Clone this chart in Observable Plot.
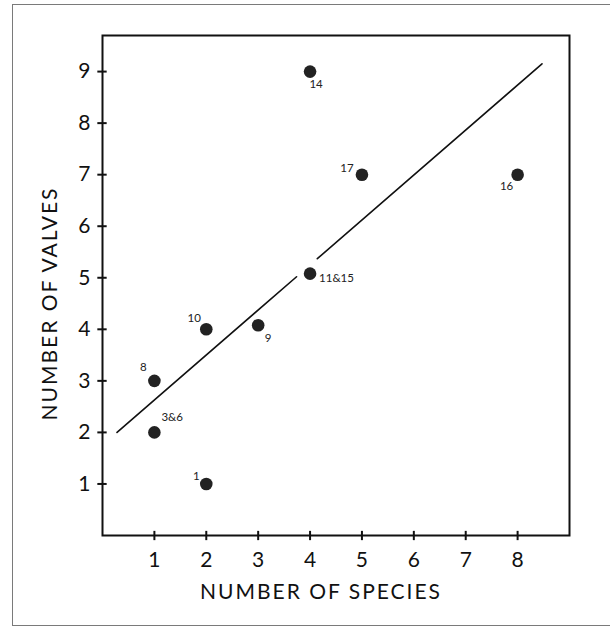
<!DOCTYPE html>
<html>
<head>
<meta charset="utf-8">
<script src="https://cdn.jsdelivr.net/npm/d3@7"></script>
<script src="https://cdn.jsdelivr.net/npm/@observablehq/plot@0.6"></script>
<style>
  html, body { margin: 0; padding: 0; background: #fff; }
  #wrap { position: relative; width: 610px; height: 626px; overflow: hidden; }
  #border { position: absolute; left: 12px; top: 4px; width: 620px; height: 622px;
            border: 1.5px solid #7a7a7a; box-sizing: border-box; }
  #chart { position: absolute; left: 0; top: 0; }
  svg { font-family: Lato, "DejaVu Sans", sans-serif; }
</style>
</head>
<body>
<div id="wrap"><div id="border"></div><div id="chart"></div></div>
<script>
// Data
const species = [2, 1, 1, 2, 3, 4, 4, 5, 8];
const valves  = [1, 2, 3, 4, 4.08, 5.08, 9, 7, 7];
const pointLabels = ["1", "3&6", "8", "10", "9", "11&15", "14", "17", "16"];

// Fitted line (drawn with a gap around point 11&15)
const fitX = [0.28, 3.74, 4.14, 8.47];
const fitY = [2.0, 5.02, 5.37, 9.15];
const fitSeg = [0, 0, 1, 1];

const xTicks = [1, 2, 3, 4, 5, 6, 7, 8];
const yTicks = [1, 2, 3, 4, 5, 6, 7, 8, 9];
const xTitle = "NUMBER OF SPECIES";
const yTitle = "NUMBER OF VALVES";

const points = species.map((x, i) => ({x, y: valves[i], label: pointLabels[i]}));
const fit = fitX.map((x, i) => ({x, y: fitY[i], seg: fitSeg[i]}));

// label placement (style)
const labelPos = {
  "1":     {dx: -10, dy: -8,  anchor: "middle"},
  "3&6":   {dx: 7,   dy: -15, anchor: "start"},
  "8":     {dx: -11, dy: -14, anchor: "middle"},
  "10":    {dx: -12, dy: -11, anchor: "middle"},
  "9":     {dx: 10,  dy: 13,  anchor: "middle"},
  "11&15": {dx: 9,   dy: 5,   anchor: "start"},
  "14":    {dx: 6,   dy: 13,  anchor: "middle"},
  "17":    {dx: -15, dy: -6,  anchor: "middle"},
  "16":    {dx: -11, dy: 12,  anchor: "middle"}
};

const labelMarks = points.map(p => {
  const s = labelPos[p.label];
  return Plot.text([p], {x: "x", y: "y", text: "label", dx: s.dx, dy: s.dy,
    textAnchor: s.anchor, fontSize: 11.5, fill: "#222"});
});

const chart = Plot.plot({
  width: 610,
  height: 626,
  marginLeft: 102,
  marginRight: 41,
  marginTop: 35,
  marginBottom: 91,
  x: {domain: [0, 9]},
  y: {domain: [0, 9.7]},
  marks: [
    Plot.frame({stroke: "#111", strokeWidth: 2}),
    Plot.axisX(xTicks, {tickSize: 0, tickPadding: 17, fontSize: 21, label: null, fill: "#111", tickFormat: "d"}),
    Plot.axisY(yTicks, {tickSize: 0, tickPadding: 12, fontSize: 21, label: null, fill: "#111", tickFormat: "d"}),
    // crossing tick marks on both axes
    Plot.ruleY(yTicks, {y: d => d, x1: -0.09, x2: 0.09, stroke: "#111", strokeWidth: 2}),
    Plot.link(xTicks, {x1: d => d, x2: d => d, y1: -0.09, y2: 0.09, stroke: "#111", strokeWidth: 2}),
    Plot.line(fit, {x: "x", y: "y", z: "seg", stroke: "#111", strokeWidth: 1.6}),
    Plot.dot(points, {x: "x", y: "y", r: 6.3, fill: "#222", stroke: "none"}),
    ...labelMarks,
    Plot.text([xTitle], {frameAnchor: "bottom", textAnchor: "middle", dx: -15, dy: 63, fontSize: 21, fill: "#111", text: d => d}),
    Plot.text([yTitle], {frameAnchor: "left", textAnchor: "middle", dx: -52, dy: 18, rotate: -90, fontSize: 21, fill: "#111", text: d => d})
  ]
});
document.getElementById("chart").appendChild(chart);
d3.select(chart).selectAll("text").filter(function() {
  const t = this.textContent; return t === xTitle || t === yTitle;
}).attr("letter-spacing", "2px");
</script>
</body>
</html>
